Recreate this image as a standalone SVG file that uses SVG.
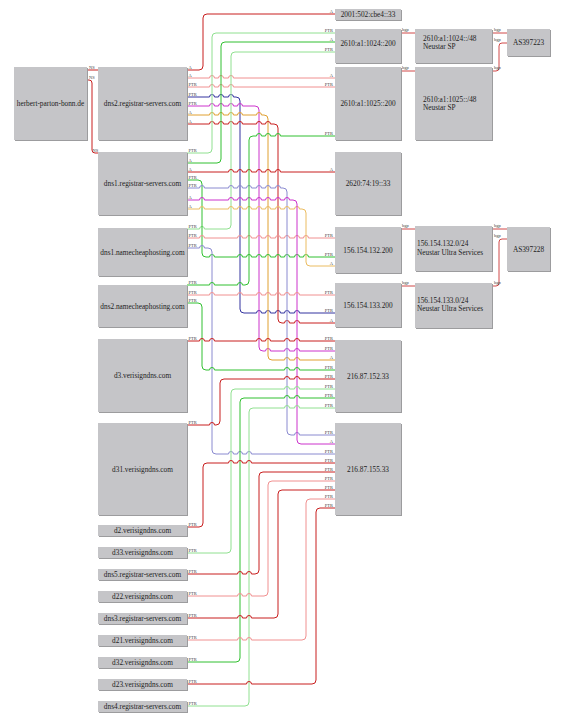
<svg xmlns="http://www.w3.org/2000/svg" width="565" height="722" viewBox="0 0 565 722">
<style>
.sh{fill:#9c9c9e}
.bx{fill:#c5c5c8}
.t{font-family:"Liberation Serif","Times New Roman",serif;font-size:7.3px;fill:#222;text-anchor:middle}
.tl{font-family:"Liberation Serif","Times New Roman",serif;font-size:7.3px;fill:#222}
.e{fill:none;stroke-width:1}
.l{font-family:"Liberation Serif","Times New Roman",serif;font-size:4.5px;fill:#444}
.le{font-family:"Liberation Serif","Times New Roman",serif;font-size:4.5px;fill:#444;text-anchor:end}
.r{stroke:#c81e1e}.lr{stroke:#f09090}.g{stroke:#30c030}.lg{stroke:#90e090}
.b{stroke:#33339f}.lb{stroke:#8a8ad0}.m{stroke:#cc33cc}.o{stroke:#e0a030}.lo{stroke:#ebbc60}
.bg{stroke:#d04848}
</style>
<rect width="565" height="722" fill="#fff"/>
<g id="connectors">
<path class="e r" d="M87,70H98"/>
<path class="e r" d="M87,80H89Q92,80 92,83V150Q92,153 95,153H98"/>
<path class="e r" d="M187,70H199Q203,70 203,66V18Q203,14 207,14H335"/>
<path class="e lr" d="M187,78H209.5a2.5,2.5 0 0 1 5,0H218.5a2.5,2.5 0 0 1 5,0H228.5a2.5,2.5 0 0 1 5,0H335"/>
<path class="e lr" d="M187,87H209.5a2.5,2.5 0 0 1 5,0H218.5a2.5,2.5 0 0 1 5,0H228.5a2.5,2.5 0 0 1 5,0H335"/>
<path class="e b" d="M187,97H209.5a2.5,2.5 0 0 1 5,0H218.5a2.5,2.5 0 0 1 5,0H228.5a2.5,2.5 0 0 1 5,0H236Q240,97 240,101V309Q240,313 244,313H256.5a2.5,2.5 0 0 1 5,0H265.5a2.5,2.5 0 0 1 5,0H275.5a2.5,2.5 0 0 1 5,0H284.5a2.5,2.5 0 0 1 5,0H294.5a2.5,2.5 0 0 1 5,0H335"/>
<path class="e m" d="M187,106H209.5a2.5,2.5 0 0 1 5,0H218.5a2.5,2.5 0 0 1 5,0H228.5a2.5,2.5 0 0 1 5,0H237.5a2.5,2.5 0 0 1 5,0H255Q259,106 259,110V347Q259,351 263,351H265.5a2.5,2.5 0 0 1 5,0H284.5a2.5,2.5 0 0 1 5,0H294.5a2.5,2.5 0 0 1 5,0H335"/>
<path class="e o" d="M187,115H209.5a2.5,2.5 0 0 1 5,0H218.5a2.5,2.5 0 0 1 5,0H228.5a2.5,2.5 0 0 1 5,0H237.5a2.5,2.5 0 0 1 5,0H256.5a2.5,2.5 0 0 1 5,0H264Q268,115 268,119V356Q268,360 272,360H284.5a2.5,2.5 0 0 1 5,0H294.5a2.5,2.5 0 0 1 5,0H335"/>
<path class="e r" d="M187,124H209.5a2.5,2.5 0 0 1 5,0H218.5a2.5,2.5 0 0 1 5,0H228.5a2.5,2.5 0 0 1 5,0H237.5a2.5,2.5 0 0 1 5,0H256.5a2.5,2.5 0 0 1 5,0H265.5a2.5,2.5 0 0 1 5,0H274Q278,124 278,128V319Q278,323 282,323H284.5a2.5,2.5 0 0 1 5,0H294.5a2.5,2.5 0 0 1 5,0H335"/>
<path class="e lg" d="M187,153H208Q212,153 212,149V37Q212,33 216,33H335"/>
<path class="e g" d="M187,163H217Q221,163 221,159V46Q221,42 225,42H335"/>
<path class="e lg" d="M187,229H199.5a2.5,2.5 0 0 1 5,0H227Q231,229 231,225V56Q231,52 235,52H335"/>
<path class="e r" d="M187,172H228.5a2.5,2.5 0 0 1 5,0H237.5a2.5,2.5 0 0 1 5,0H246.5a2.5,2.5 0 0 1 5,0H256.5a2.5,2.5 0 0 1 5,0H265.5a2.5,2.5 0 0 1 5,0H275.5a2.5,2.5 0 0 1 5,0H335"/>
<path class="e g" d="M187,180H198Q202,180 202,184V253Q202,257 206,257H209.5a2.5,2.5 0 0 1 5,0H237.5a2.5,2.5 0 0 1 5,0H246.5a2.5,2.5 0 0 1 5,0H256.5a2.5,2.5 0 0 1 5,0H265.5a2.5,2.5 0 0 1 5,0H275.5a2.5,2.5 0 0 1 5,0H284.5a2.5,2.5 0 0 1 5,0H294.5a2.5,2.5 0 0 1 5,0H303.5a2.5,2.5 0 0 1 5,0H335"/>
<path class="e lr" d="M187,238H199.5a2.5,2.5 0 0 1 5,0H237.5a2.5,2.5 0 0 1 5,0H246.5a2.5,2.5 0 0 1 5,0H256.5a2.5,2.5 0 0 1 5,0H265.5a2.5,2.5 0 0 1 5,0H275.5a2.5,2.5 0 0 1 5,0H284.5a2.5,2.5 0 0 1 5,0H294.5a2.5,2.5 0 0 1 5,0H303.5a2.5,2.5 0 0 1 5,0H335"/>
<path class="e lb" d="M187,248H199.5a2.5,2.5 0 0 1 5,0H208Q212,248 212,252V450Q212,454 216,454H228.5a2.5,2.5 0 0 1 5,0H237.5a2.5,2.5 0 0 1 5,0H246.5a2.5,2.5 0 0 1 5,0H335"/>
<path class="e lb" d="M187,188H199.5a2.5,2.5 0 0 1 5,0H228.5a2.5,2.5 0 0 1 5,0H237.5a2.5,2.5 0 0 1 5,0H246.5a2.5,2.5 0 0 1 5,0H256.5a2.5,2.5 0 0 1 5,0H265.5a2.5,2.5 0 0 1 5,0H275.5a2.5,2.5 0 0 1 5,0H283Q287,188 287,192V431Q287,435 291,435H294.5a2.5,2.5 0 0 1 5,0H335"/>
<path class="e lo" d="M187,209H199.5a2.5,2.5 0 0 1 5,0H228.5a2.5,2.5 0 0 1 5,0H237.5a2.5,2.5 0 0 1 5,0H246.5a2.5,2.5 0 0 1 5,0H256.5a2.5,2.5 0 0 1 5,0H265.5a2.5,2.5 0 0 1 5,0H275.5a2.5,2.5 0 0 1 5,0H284.5a2.5,2.5 0 0 1 5,0H294.5a2.5,2.5 0 0 1 5,0H302Q306,209 306,213V262Q306,266 310,266H335"/>
<path class="e m" d="M187,200H199.5a2.5,2.5 0 0 1 5,0H228.5a2.5,2.5 0 0 1 5,0H237.5a2.5,2.5 0 0 1 5,0H246.5a2.5,2.5 0 0 1 5,0H256.5a2.5,2.5 0 0 1 5,0H265.5a2.5,2.5 0 0 1 5,0H275.5a2.5,2.5 0 0 1 5,0H284.5a2.5,2.5 0 0 1 5,0H293Q297,200 297,204V440Q297,444 301,444H335"/>
<path class="e g" d="M187,285H209.5a2.5,2.5 0 0 1 5,0H237.5a2.5,2.5 0 0 1 5,0H245Q249,285 249,281V140Q249,136 253,136H256.5a2.5,2.5 0 0 1 5,0H265.5a2.5,2.5 0 0 1 5,0H275.5a2.5,2.5 0 0 1 5,0H335"/>
<path class="e lr" d="M187,295H209.5a2.5,2.5 0 0 1 5,0H237.5a2.5,2.5 0 0 1 5,0H256.5a2.5,2.5 0 0 1 5,0H265.5a2.5,2.5 0 0 1 5,0H275.5a2.5,2.5 0 0 1 5,0H284.5a2.5,2.5 0 0 1 5,0H294.5a2.5,2.5 0 0 1 5,0H335"/>
<path class="e g" d="M187,303H198Q202,303 202,307V366Q202,370 206,370H209.5a2.5,2.5 0 0 1 5,0H284.5a2.5,2.5 0 0 1 5,0H294.5a2.5,2.5 0 0 1 5,0H335"/>
<path class="e r" d="M187,341H199.5a2.5,2.5 0 0 1 5,0H209.5a2.5,2.5 0 0 1 5,0H256.5a2.5,2.5 0 0 1 5,0H265.5a2.5,2.5 0 0 1 5,0H284.5a2.5,2.5 0 0 1 5,0H294.5a2.5,2.5 0 0 1 5,0H335"/>
<path class="e r" d="M187,425H209.5a2.5,2.5 0 0 1 5,0H216Q220,425 220,421V383Q220,379 224,379H284.5a2.5,2.5 0 0 1 5,0H294.5a2.5,2.5 0 0 1 5,0H335"/>
<path class="e lg" d="M187,553H227Q231,553 231,549V393Q231,389 235,389H284.5a2.5,2.5 0 0 1 5,0H294.5a2.5,2.5 0 0 1 5,0H335"/>
<path class="e g" d="M187,662H236Q240,662 240,658V402Q240,398 244,398H284.5a2.5,2.5 0 0 1 5,0H294.5a2.5,2.5 0 0 1 5,0H335"/>
<path class="e lg" d="M187,706H245Q249,706 249,702V412Q249,408 253,408H284.5a2.5,2.5 0 0 1 5,0H294.5a2.5,2.5 0 0 1 5,0H335"/>
<path class="e r" d="M187,527H199Q203,527 203,523V467Q203,463 207,463H228.5a2.5,2.5 0 0 1 5,0H237.5a2.5,2.5 0 0 1 5,0H246.5a2.5,2.5 0 0 1 5,0H335"/>
<path class="e r" d="M187,574H237.5a2.5,2.5 0 0 1 5,0H246.5a2.5,2.5 0 0 1 5,0H255Q259,574 259,570V476Q259,472 263,472H335"/>
<path class="e lr" d="M187,596H237.5a2.5,2.5 0 0 1 5,0H246.5a2.5,2.5 0 0 1 5,0H264Q268,596 268,592V485Q268,481 272,481H335"/>
<path class="e r" d="M187,618H237.5a2.5,2.5 0 0 1 5,0H246.5a2.5,2.5 0 0 1 5,0H274Q278,618 278,614V494Q278,490 282,490H335"/>
<path class="e lr" d="M187,640H237.5a2.5,2.5 0 0 1 5,0H246.5a2.5,2.5 0 0 1 5,0H302Q306,640 306,636V503Q306,499 310,499H335"/>
<path class="e r" d="M187,684H246.5a2.5,2.5 0 0 1 5,0H312Q316,684 316,680V512Q316,508 320,508H335"/>
<path class="e bg" d="M401,33H415"/>
<path class="e bg" d="M401,71H415"/>
<path class="e bg" d="M492,33H507"/>
<path class="e bg" d="M492,71H496Q499,71 499,68V46Q499,43 502,43H507"/>
<path class="e bg" d="M401,229H415"/>
<path class="e bg" d="M401,286H415"/>
<path class="e bg" d="M492,229H507"/>
<path class="e bg" d="M492,286H496Q499,286 499,283V242Q499,239 502,239H507"/>
</g>
<g id="edge-labels">
<text class="l" x="89" y="69">NS</text><text class="l" x="89" y="79">NS</text><text class="l" x="92.5" y="152">NS</text>
<text class="l" x="188.5" y="69">A</text><text class="l" x="188.5" y="77">A</text><text class="l" x="188.5" y="86">PTR</text><text class="l" x="188.5" y="96">PTR</text><text class="l" x="188.5" y="105">PTR</text><text class="l" x="188.5" y="114">A</text><text class="l" x="188.5" y="123">A</text>
<text class="l" x="188.5" y="152">PTR</text><text class="l" x="188.5" y="162">A</text><text class="l" x="188.5" y="171">A</text><text class="l" x="188.5" y="179">PTR</text><text class="l" x="188.5" y="187">PTR</text><text class="l" x="188.5" y="199">A</text><text class="l" x="188.5" y="208">A</text>
<text class="l" x="188.5" y="228">PTR</text><text class="l" x="188.5" y="237">PTR</text><text class="l" x="188.5" y="247">PTR</text>
<text class="l" x="188.5" y="284">PTR</text><text class="l" x="188.5" y="294">PTR</text><text class="l" x="188.5" y="302">PTR</text>
<text class="l" x="188.5" y="340">PTR</text><text class="l" x="188.5" y="424">PTR</text>
<text class="l" x="188.5" y="526">PTR</text><text class="l" x="188.5" y="552">PTR</text><text class="l" x="188.5" y="573">PTR</text><text class="l" x="188.5" y="595">PTR</text><text class="l" x="188.5" y="617">PTR</text><text class="l" x="188.5" y="639">PTR</text><text class="l" x="188.5" y="661">PTR</text><text class="l" x="188.5" y="683">PTR</text><text class="l" x="188.5" y="705">PTR</text>
<text class="le" x="333" y="12.8">A</text>
<text class="le" x="333" y="31.8">PTR</text><text class="le" x="333" y="40.8">A</text><text class="le" x="333" y="50.8">PTR</text>
<text class="le" x="333" y="76.8">A</text><text class="le" x="333" y="85.8">PTR</text><text class="le" x="333" y="134.8">PTR</text>
<text class="le" x="333" y="170.8">A</text>
<text class="le" x="333" y="236.8">PTR</text><text class="le" x="333" y="255.8">PTR</text><text class="le" x="333" y="264.8">A</text>
<text class="le" x="333" y="293.8">PTR</text><text class="le" x="333" y="311.8">PTR</text><text class="le" x="333" y="321.8">A</text>
<text class="le" x="333" y="339.8">PTR</text><text class="le" x="333" y="349.8">PTR</text><text class="le" x="333" y="358.8">A</text><text class="le" x="333" y="368.8">PTR</text><text class="le" x="333" y="377.8">PTR</text><text class="le" x="333" y="387.8">PTR</text><text class="le" x="333" y="396.8">PTR</text><text class="le" x="333" y="406.8">PTR</text>
<text class="le" x="333" y="433.8">PTR</text><text class="le" x="333" y="442.8">A</text><text class="le" x="333" y="452.8">PTR</text><text class="le" x="333" y="461.8">PTR</text><text class="le" x="333" y="470.8">PTR</text><text class="le" x="333" y="479.8">PTR</text><text class="le" x="333" y="488.8">PTR</text><text class="le" x="333" y="497.8">PTR</text><text class="le" x="333" y="506.8">PTR</text>
<text class="l" x="402" y="31">bgp</text><text class="l" x="402" y="69">bgp</text><text class="l" x="494" y="31">bgp</text><text class="l" x="494" y="41">bgp</text><text class="l" x="494" y="69">bgp</text>
<text class="l" x="402" y="227">bgp</text><text class="l" x="402" y="284">bgp</text><text class="l" x="494" y="227">bgp</text><text class="l" x="494" y="237">bgp</text><text class="l" x="494" y="284">bgp</text>
</g>
<g id="herbert-parton-bonn.de"><rect class="sh" x="15" y="68" width="73" height="73"/><rect class="bx" x="14" y="67" width="73" height="73"/><text class="t" x="50.5" y="106">herbert-parton-bonn.de</text></g>
<g id="dns2.registrar-servers.com"><rect class="sh" x="99" y="68" width="89" height="73"/><rect class="bx" x="98" y="67" width="89" height="73"/><text class="t" x="142.5" y="106">dns2.registrar-servers.com</text></g>
<g id="dns1.registrar-servers.com"><rect class="sh" x="99" y="153" width="89" height="63"/><rect class="bx" x="98" y="152" width="89" height="63"/><text class="t" x="142.5" y="186">dns1.registrar-servers.com</text></g>
<g id="dns1.namecheaphosting.com"><rect class="sh" x="99" y="229" width="89" height="48"/><rect class="bx" x="98" y="228" width="89" height="48"/><text class="t" x="142.5" y="254.5">dns1.namecheaphosting.com</text></g>
<g id="dns2.namecheaphosting.com"><rect class="sh" x="99" y="286" width="89" height="42"/><rect class="bx" x="98" y="285" width="89" height="42"/><text class="t" x="142.5" y="308.5">dns2.namecheaphosting.com</text></g>
<g id="d3.verisigndns.com"><rect class="sh" x="99" y="340" width="89" height="73"/><rect class="bx" x="98" y="339" width="89" height="73"/><text class="t" x="142.5" y="378">d3.verisigndns.com</text></g>
<g id="d31.verisigndns.com"><rect class="sh" x="99" y="424" width="89" height="92"/><rect class="bx" x="98" y="423" width="89" height="92"/><text class="t" x="142.5" y="471.5">d31.verisigndns.com</text></g>
<g id="d2.verisigndns.com"><rect class="sh" x="99" y="526" width="89" height="11"/><rect class="bx" x="98" y="525" width="89" height="11"/><text class="t" x="142.5" y="533">d2.verisigndns.com</text></g>
<g id="d33.verisigndns.com"><rect class="sh" x="99" y="548" width="89" height="11"/><rect class="bx" x="98" y="547" width="89" height="11"/><text class="t" x="142.5" y="555">d33.verisigndns.com</text></g>
<g id="dns5.registrar-servers.com"><rect class="sh" x="99" y="570" width="89" height="11"/><rect class="bx" x="98" y="569" width="89" height="11"/><text class="t" x="142.5" y="577">dns5.registrar-servers.com</text></g>
<g id="d22.verisigndns.com"><rect class="sh" x="99" y="592" width="89" height="11"/><rect class="bx" x="98" y="591" width="89" height="11"/><text class="t" x="142.5" y="599">d22.verisigndns.com</text></g>
<g id="dns3.registrar-servers.com"><rect class="sh" x="99" y="614" width="89" height="11"/><rect class="bx" x="98" y="613" width="89" height="11"/><text class="t" x="142.5" y="621">dns3.registrar-servers.com</text></g>
<g id="d21.verisigndns.com"><rect class="sh" x="99" y="636" width="89" height="11"/><rect class="bx" x="98" y="635" width="89" height="11"/><text class="t" x="142.5" y="643">d21.verisigndns.com</text></g>
<g id="d32.verisigndns.com"><rect class="sh" x="99" y="658" width="89" height="11"/><rect class="bx" x="98" y="657" width="89" height="11"/><text class="t" x="142.5" y="665">d32.verisigndns.com</text></g>
<g id="d23.verisigndns.com"><rect class="sh" x="99" y="680" width="89" height="11"/><rect class="bx" x="98" y="679" width="89" height="11"/><text class="t" x="142.5" y="687">d23.verisigndns.com</text></g>
<g id="dns4.registrar-servers.com"><rect class="sh" x="99" y="702" width="89" height="11"/><rect class="bx" x="98" y="701" width="89" height="11"/><text class="t" x="142.5" y="709">dns4.registrar-servers.com</text></g>
<g id="ip-2001-502-cbe4--33"><rect class="sh" x="336" y="10" width="66" height="11"/><rect class="bx" x="335" y="9" width="66" height="11"/><text class="t" x="368" y="17">2001:502:cbe4::33</text></g>
<g id="ip-2610-a1-1024--200"><rect class="sh" x="336" y="30" width="66" height="34"/><rect class="bx" x="335" y="29" width="66" height="34"/><text class="t" x="368" y="45.5">2610:a1:1024::200</text></g>
<g id="ip-2610-a1-1025--200"><rect class="sh" x="336" y="68" width="66" height="73"/><rect class="bx" x="335" y="67" width="66" height="73"/><text class="t" x="368" y="106">2610:a1:1025::200</text></g>
<g id="ip-2620-74-19--33"><rect class="sh" x="336" y="153" width="66" height="63"/><rect class="bx" x="335" y="152" width="66" height="63"/><text class="t" x="368" y="186">2620:74:19::33</text></g>
<g id="ip-156.154.132.200"><rect class="sh" x="336" y="228" width="66" height="46"/><rect class="bx" x="335" y="227" width="66" height="46"/><text class="t" x="368" y="252.5">156.154.132.200</text></g>
<g id="ip-156.154.133.200"><rect class="sh" x="336" y="284" width="66" height="44"/><rect class="bx" x="335" y="283" width="66" height="44"/><text class="t" x="368" y="307.5">156.154.133.200</text></g>
<g id="ip-216.87.152.33"><rect class="sh" x="336" y="341" width="66" height="72"/><rect class="bx" x="335" y="340" width="66" height="72"/><text class="t" x="368" y="378.5">216.87.152.33</text></g>
<g id="ip-216.87.155.33"><rect class="sh" x="336" y="424" width="66" height="92"/><rect class="bx" x="335" y="423" width="66" height="92"/><text class="t" x="368" y="471.5">216.87.155.33</text></g>
<g id="net-2610-a1-1024"><rect class="sh" x="416" y="30" width="77" height="34"/><rect class="bx" x="415" y="29" width="77" height="34"/><text class="tl" x="423" y="40.5">2610:a1:1024::/48</text><text class="tl" x="423" y="48.5">Neustar SP</text></g>
<g id="net-2610-a1-1025"><rect class="sh" x="416" y="68" width="77" height="73"/><rect class="bx" x="415" y="67" width="77" height="73"/><text class="tl" x="423" y="101.5">2610:a1:1025::/48</text><text class="tl" x="423" y="109.5">Neustar SP</text></g>
<g id="net-156.154.132.0"><rect class="sh" x="416" y="227" width="77" height="45"/><rect class="bx" x="415" y="226" width="77" height="45"/><text class="tl" x="417" y="245.5">156.154.132.0/24</text><text class="tl" x="417" y="254.5">Neustar Ultra Services</text></g>
<g id="net-156.154.133.0"><rect class="sh" x="416" y="284" width="77" height="45"/><rect class="bx" x="415" y="283" width="77" height="45"/><text class="tl" x="417" y="302.5">156.154.133.0/24</text><text class="tl" x="417" y="311">Neustar Ultra Services</text></g>
<g id="AS397223"><rect class="sh" x="508" y="30" width="43" height="27"/><rect class="bx" x="507" y="29" width="43" height="27"/><text class="t" x="528.5" y="45">AS397223</text></g>
<g id="AS397228"><rect class="sh" x="508" y="228" width="43" height="44"/><rect class="bx" x="507" y="227" width="43" height="44"/><text class="t" x="528.5" y="251.5">AS397228</text></g>
</svg>
